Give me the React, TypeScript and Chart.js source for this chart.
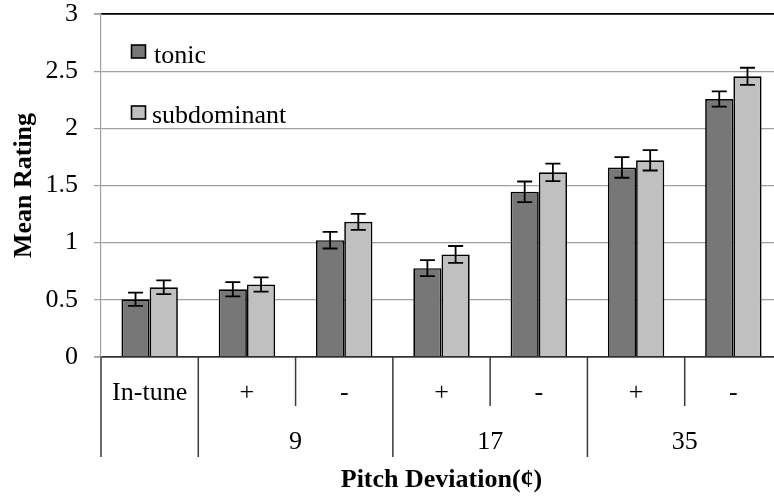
import { useEffect, useRef } from 'react';
import { Chart, registerables } from 'chart.js';

Chart.register(...registerables);

const categories = ['In-tune', '+', '-', '+', '-', '+', '-'];
const groupLabels = ['', '9', '17', '35'];
const groupSizes = [1, 2, 2, 2];
const seriesNames = ['tonic', 'subdominant'];
const tonicValues = [0.505, 0.593, 1.022, 0.777, 1.445, 1.658, 2.257];
const tonicErrors = [0.058, 0.062, 0.073, 0.07, 0.09, 0.09, 0.067];
const subdominantValues = [0.61, 0.634, 1.182, 0.897, 1.615, 1.72, 2.455];
const subdominantErrors = [0.06, 0.063, 0.07, 0.074, 0.077, 0.089, 0.075];
const yTicks = [0, 0.5, 1, 1.5, 2, 2.5, 3];
const yTickLabels = ['0', '0.5', '1', '1.5', '2', '2.5', '3'];
const xTitle = 'Pitch Deviation(¢)';
const yTitle = 'Mean Rating';

const FONT = "'Liberation Serif', 'Times New Roman', serif";
const FS = 26;
const TONIC = '#777777';
const SUB = '#c0c0c0';
const errorsBySeries = [tonicErrors, subdominantErrors];

const errorBarPlugin = {
  id: 'errorBars',
  afterDatasetsDraw(chart: any) {
    const ctx = chart.ctx;
    const y = chart.scales.y;
    chart.data.datasets.forEach((ds: any, i: number) => {
      const meta = chart.getDatasetMeta(i);
      const errs = errorsBySeries[i];
      meta.data.forEach((bar: any, j: number) => {
        const v = ds.data[j];
        const e = errs[j];
        const t = y.getPixelForValue(v + e);
        const b = y.getPixelForValue(v - e);
        const cap = 7.5;
        ctx.save();
        ctx.strokeStyle = '#000';
        ctx.lineWidth = 1.8;
        ctx.beginPath();
        ctx.moveTo(bar.x, t);
        ctx.lineTo(bar.x, b);
        ctx.moveTo(bar.x - cap, t);
        ctx.lineTo(bar.x + cap, t);
        ctx.moveTo(bar.x - cap, b);
        ctx.lineTo(bar.x + cap, b);
        ctx.stroke();
        ctx.restore();
      });
    });
  },
};

const groupAxisPlugin = {
  id: 'groupAxis',
  afterDraw(chart: any) {
    const ctx = chart.ctx;
    const x = chart.scales.x;
    const top = chart.chartArea.bottom;
    const half = (x.getPixelForValue(1) - x.getPixelForValue(0)) / 2;
    const fullBottom = top + 100;
    const shortBottom = top + 49;
    ctx.save();
    ctx.strokeStyle = '#3a3a3a';
    ctx.lineWidth = 1.5;
    ctx.fillStyle = '#000';
    ctx.font = `${FS}px ${FONT}`;
    ctx.textAlign = 'center';
    ctx.textBaseline = 'middle';
    let idx = 0;
    const vline = (px: number, bottom: number) => {
      ctx.beginPath();
      ctx.moveTo(px, top);
      ctx.lineTo(px, bottom);
      ctx.stroke();
    };
    groupSizes.forEach((size, g) => {
      const left = x.getPixelForValue(idx) - half;
      const right = x.getPixelForValue(idx + size - 1) + half;
      vline(left, fullBottom);
      for (let k = 1; k < size; k++) {
        vline(x.getPixelForValue(idx + k) - half, shortBottom);
      }
      if (groupLabels[g]) ctx.fillText(groupLabels[g], (left + right) / 2, top + 85);
      idx += size;
      if (g === groupSizes.length - 1) vline(right, fullBottom);
    });
    ctx.restore();
  },
};

const legendPlugin = {
  id: 'insideLegend',
  afterDraw(chart: any) {
    const ctx = chart.ctx;
    const colors = [TONIC, SUB];
    const rows = [
      { bx: 131.5, by: 45, tx: 154, ty: 63 },
      { bx: 131.5, by: 106, tx: 152, ty: 123 },
    ];
    ctx.save();
    ctx.font = `${FS}px ${FONT}`;
    ctx.textAlign = 'left';
    ctx.textBaseline = 'alphabetic';
    seriesNames.forEach((name, i) => {
      const r = rows[i];
      ctx.fillStyle = colors[i];
      ctx.fillRect(r.bx, r.by, 14, 13);
      ctx.strokeStyle = '#000';
      ctx.lineWidth = 1.6;
      ctx.strokeRect(r.bx, r.by, 14, 13);
      ctx.fillStyle = '#000';
      ctx.fillText(name, r.tx, r.ty);
    });
    ctx.restore();
  },
};

export default function App() {
  const canvasRef = useRef<HTMLCanvasElement | null>(null);

  useEffect(() => {
    if (!canvasRef.current) return;
    const chart = new Chart(canvasRef.current, {
      type: 'bar',
      data: {
        labels: categories,
        datasets: [
          {
            label: seriesNames[0],
            data: tonicValues,
            backgroundColor: TONIC,
            borderColor: '#000',
            borderWidth: 1.7,
          },
          {
            label: seriesNames[1],
            data: subdominantValues,
            backgroundColor: SUB,
            borderColor: '#000',
            borderWidth: 1.7,
          },
        ],
      },
      options: {
        responsive: false,
        animation: false,
        layout: { padding: { left: 0, right: 8, top: 14, bottom: 0 } },
        datasets: { bar: { categoryPercentage: 0.58, barPercentage: 1 } },
        plugins: { legend: { display: false }, tooltip: { enabled: false } },
        scales: {
          x: {
            grid: { display: false },
            border: { display: false },
            ticks: {
              font: { family: FONT, size: FS },
              color: '#000',
              padding: 12.5,
              maxRotation: 0,
              autoSkip: false,
            },
            title: {
              display: true,
              text: xTitle,
              color: '#000',
              font: { family: FONT, size: FS, weight: 'bold' },
              padding: { top: 0, bottom: 1 },
            },
            afterFit: (s: any) => {
              s.height = 140;
              s.paddingLeft = 0;
              s.paddingRight = 0;
            },
          },
          y: {
            min: 0,
            max: 3,
            afterBuildTicks: (s: any) => {
              s.ticks = yTicks.map((v) => ({ value: v }));
            },
            grid: {
              color: (c: any) =>
                c.tick && c.tick.value === 3 ? '#000' : c.tick && c.tick.value === 0 ? '#333' : '#a0a0a0',
              lineWidth: (c: any) => (c.tick && (c.tick.value === 3 || c.tick.value === 0) ? 1.8 : 1.2),
              tickColor: '#a0a0a0',
              tickLength: 7,
            },
            border: { color: '#a0a0a0', width: 1.2 },
            ticks: {
              font: { family: FONT, size: FS },
              color: '#000',
              padding: 16,
              callback: (_v: any, i: number) => yTickLabels[i],
            },
            title: {
              display: true,
              text: yTitle,
              color: '#000',
              font: { family: FONT, size: FS, weight: 'bold' },
              padding: { top: 8.5, bottom: 0 },
            },
            afterFit: (s: any) => {
              s.width = 101;
              s.paddingTop = 0;
              s.paddingBottom = 0;
            },
          },
        },
      },
      plugins: [errorBarPlugin, groupAxisPlugin, legendPlugin],
    } as any);
    return () => chart.destroy();
  }, []);

  return (
    <div
      style={{
        position: 'absolute',
        left: 0,
        top: 0,
        width: 774,
        height: 497,
        overflow: 'hidden',
        background: '#fff',
      }}
    >
      <canvas ref={canvasRef} width={790} height={497} style={{ width: 790, height: 497, display: 'block' }} />
    </div>
  );
}
